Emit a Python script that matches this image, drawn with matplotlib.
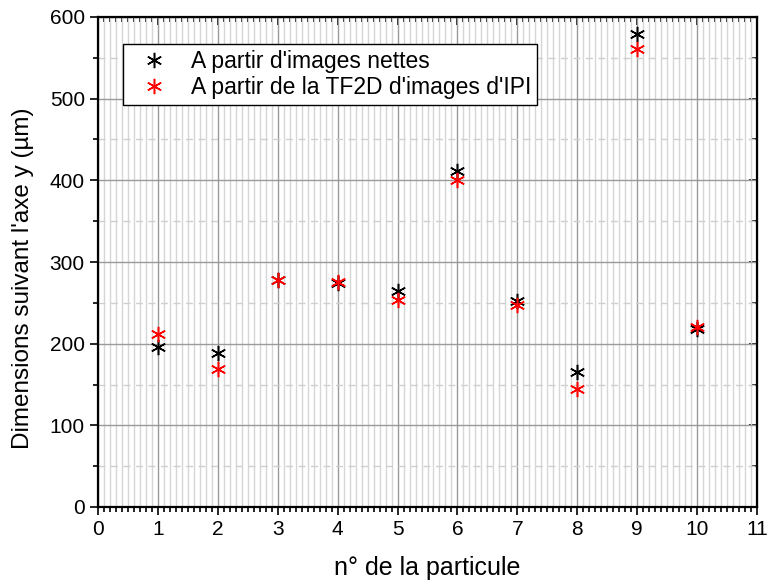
import matplotlib
matplotlib.use("Agg")
import matplotlib.pyplot as plt
from matplotlib.ticker import MultipleLocator

plt.rcParams['font.family'] = ['Liberation Sans', 'DejaVu Sans']

particles = [1, 2, 3, 4, 5, 6, 7, 8, 9, 10]
nettes = [196, 188, 278, 274, 264, 411, 252, 165, 579, 218]
tf2d = [212, 169, 278, 275, 254, 401, 247, 145, 561, 220]
label_nettes = "A partir d'images nettes"
label_tf2d = "A partir de la TF2D d'images d'IPI"

fig = plt.figure(figsize=(7.67, 5.85), dpi=100)
ax = fig.add_axes([98/767, 1 - 507/585, (757-98)/767, (507-17)/585])

star = (6, 2, 0)
ax.plot(particles, nettes, linestyle='none', marker=star, color='black', ms=11, mew=1.1, label=label_nettes, zorder=3)
ax.plot(particles, tf2d, linestyle='none', marker=star, color='red', ms=11, mew=1.1, label=label_tf2d, zorder=3)

ax.set_xlim(0, 11)
ax.set_ylim(0, 600)
ax.xaxis.set_major_locator(MultipleLocator(1))
ax.xaxis.set_minor_locator(MultipleLocator(0.1))
ax.yaxis.set_major_locator(MultipleLocator(100))
ax.yaxis.set_minor_locator(MultipleLocator(50))

ax.grid(which='major', axis='both', color='#9a9a9a', linewidth=1.0, zorder=1)
ax.grid(which='minor', axis='x', color='#d6d6d6', linewidth=1.0, zorder=0)
ax.grid(which='minor', axis='y', color='#cfcfcf', linewidth=1.0, linestyle=(0, (5, 4)), zorder=0)
ax.set_axisbelow(True)

for s in ax.spines.values():
    s.set_linewidth(1.6)

ax.tick_params(which='both', bottom=True, left=True, top=False, right=False, direction='out', width=1.2)
ax.tick_params(which='major', length=6, labelsize=15)
ax.tick_params(which='minor', length=3.5)

axt = ax.secondary_xaxis('top')
axt.xaxis.set_major_locator(MultipleLocator(1))
axt.xaxis.set_minor_locator(MultipleLocator(0.1))
axt.tick_params(which='both', direction='in', width=1.2, labeltop=False)
axt.tick_params(which='major', length=6)
axt.tick_params(which='minor', length=3.5)
axr = ax.secondary_yaxis('right')
axr.yaxis.set_major_locator(MultipleLocator(100))
axr.yaxis.set_minor_locator(MultipleLocator(50))
axr.tick_params(which='both', direction='in', width=1.2, labelright=False)
axr.tick_params(which='major', length=6)
axr.tick_params(which='minor', length=3.5)

ax.set_xlabel("n° de la particule", fontsize=18, labelpad=12)
ax.set_ylabel("Dimensions suivant l'axe y (µm)", fontsize=17.5)
ax.yaxis.set_label_coords(-0.097, 0.467)

leg = ax.legend(loc='upper left', bbox_to_anchor=(0.038, 0.945), borderaxespad=0, fontsize=16.5,
                frameon=True, fancybox=False, framealpha=1, edgecolor='black', handletextpad=0.5,
                borderpad=0.25, labelspacing=0.15, handlelength=2.2)
leg.get_frame().set_linewidth(1.0)

fig.savefig("out.png", dpi=100)
